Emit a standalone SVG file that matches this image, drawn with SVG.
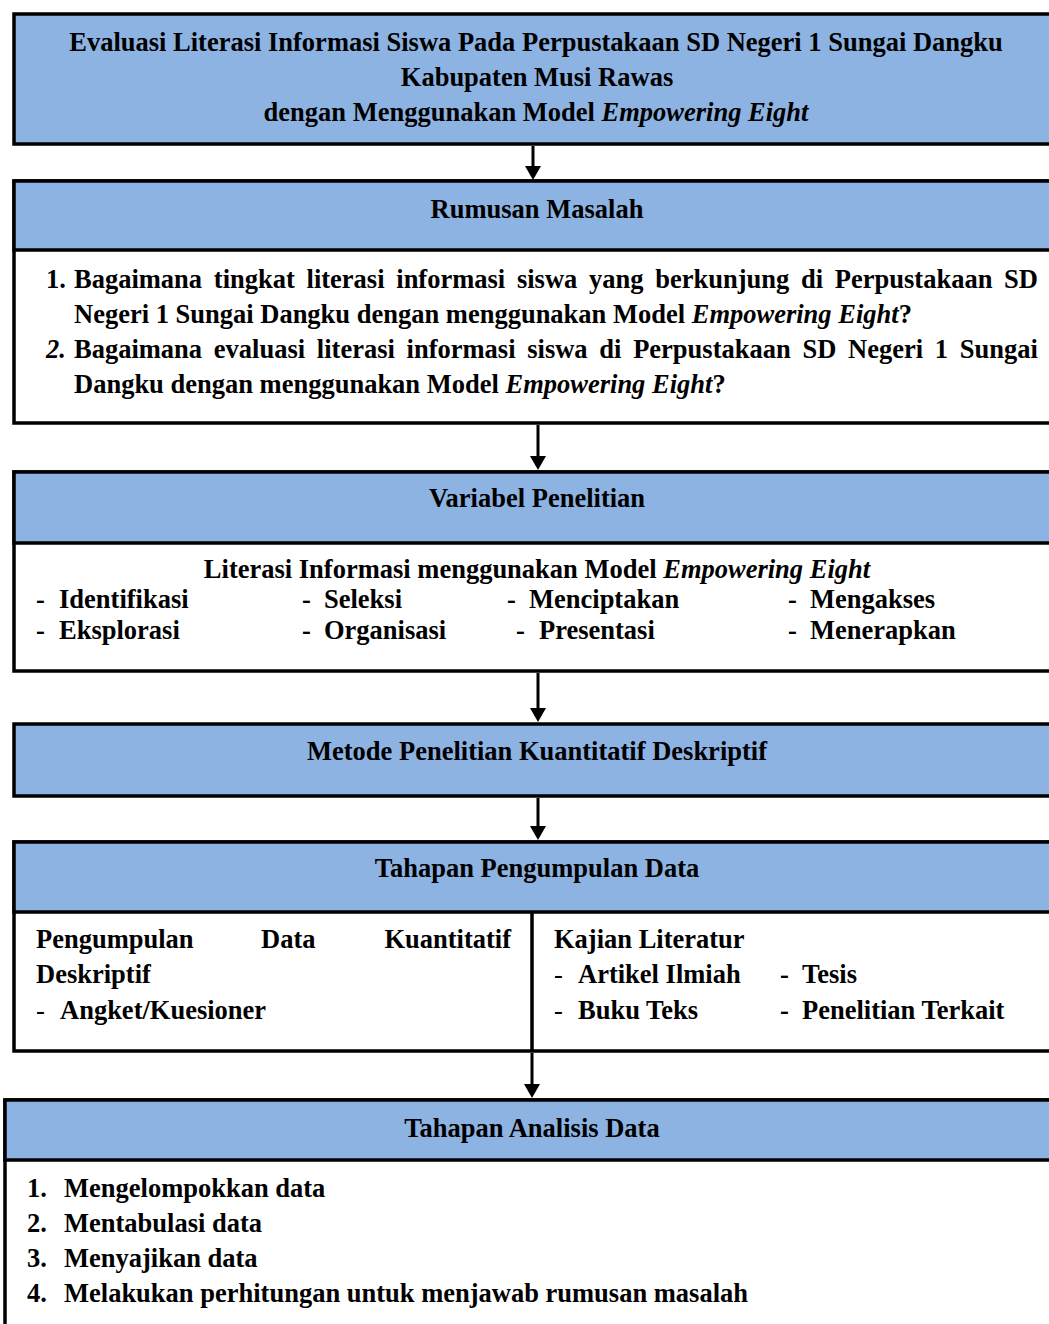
<svg xmlns="http://www.w3.org/2000/svg" width="1049" height="1324" viewBox="0 0 1049 1324">
<style>
.box{stroke:#000;stroke-width:3.5}
.hd{fill:#8DB3E2}
.bd{fill:#fff}
.ln{stroke:#000;stroke-width:3.5;fill:none}
text{font-family:"Liberation Serif","Times New Roman",serif;font-size:26.5px;font-weight:bold;fill:#000}
.c{text-anchor:middle}
.i{font-style:italic}
.n{font-weight:normal}
.conn{stroke:#000;stroke-width:3;fill:none}
.ah{fill:#000}
</style>
<rect width="1049" height="1324" fill="#fff"/>

<g id="node-title">
<rect class="box hd" x="14" y="14" width="1050" height="130"/>
<text class="c" x="536" y="51">Evaluasi Literasi Informasi Siswa Pada Perpustakaan SD Negeri 1 Sungai Dangku</text>
<text class="c" x="537" y="86">Kabupaten Musi Rawas</text>
<text class="c" x="536" y="121">dengan Menggunakan Model <tspan class="i">Empowering Eight</tspan></text>
</g>

<g id="node-rumusan">
<rect class="box bd" x="14" y="181" width="1050" height="242"/>
<rect class="box hd" x="14" y="181" width="1050" height="69"/>
<text class="c" x="537" y="218">Rumusan Masalah</text>
<text x="46" y="288">1.</text>
<text x="74" y="288" style="word-spacing:5.1px">Bagaimana tingkat literasi informasi siswa yang berkunjung di Perpustakaan SD</text>
<text x="74" y="323">Negeri 1 Sungai Dangku dengan menggunakan Model <tspan class="i">Empowering Eight</tspan>?</text>
<text x="46" y="358" class="i">2.</text>
<text x="74" y="358" style="word-spacing:5.1px">Bagaimana evaluasi literasi informasi siswa di Perpustakaan SD Negeri 1 Sungai</text>
<text x="74" y="393">Dangku dengan menggunakan Model <tspan class="i">Empowering Eight</tspan>?</text>
</g>

<g id="node-variabel">
<rect class="box bd" x="14" y="472" width="1050" height="199"/>
<rect class="box hd" x="14" y="472" width="1050" height="71"/>
<text class="c" x="537" y="507">Variabel Penelitian</text>
<text class="c" x="537" y="578">Literasi Informasi menggunakan Model <tspan class="i">Empowering Eight</tspan></text>
<text x="36" y="608">-</text><text x="59" y="608">Identifikasi</text>
<text x="302" y="608">-</text><text x="324" y="608">Seleksi</text>
<text x="507" y="608">-</text><text x="529" y="608">Menciptakan</text>
<text x="788" y="608">-</text><text x="810" y="608">Mengakses</text>
<text x="36" y="639">-</text><text x="59" y="639">Eksplorasi</text>
<text x="302" y="639">-</text><text x="324" y="639">Organisasi</text>
<text x="516" y="639">-</text><text x="539" y="639">Presentasi</text>
<text x="788" y="639">-</text><text x="810" y="639">Menerapkan</text>
</g>

<g id="node-metode">
<rect class="box hd" x="14" y="724" width="1050" height="72"/>
<text class="c" x="537" y="760">Metode Penelitian Kuantitatif Deskriptif</text>
</g>

<g id="node-pengumpulan">
<rect class="box bd" x="14" y="842" width="1050" height="209"/>
<rect class="box hd" x="14" y="842" width="1050" height="70"/>
<line class="ln" x1="532" y1="912" x2="532" y2="1051"/>
<text class="c" x="537" y="877">Tahapan Pengumpulan Data</text>
<text x="36" y="948">Pengumpulan</text>
<text x="261" y="948">Data</text>
<text x="511" y="948" style="text-anchor:end">Kuantitatif</text>
<text x="36" y="983">Deskriptif</text>
<text x="36" y="1019" class="n">-</text><text x="60" y="1019">Angket/Kuesioner</text>
<text x="554" y="948">Kajian Literatur</text>
<text x="554" y="983" class="n">-</text><text x="578" y="983">Artikel Ilmiah</text>
<text x="780" y="983">-</text><text x="802" y="983">Tesis</text>
<text x="554" y="1019" class="n">-</text><text x="578" y="1019">Buku Teks</text>
<text x="780" y="1019">-</text><text x="802" y="1019">Penelitian Terkait</text>
</g>

<g id="node-analisis">
<rect class="box bd" x="5" y="1100" width="1060" height="260"/>
<rect class="box hd" x="5" y="1100" width="1060" height="60"/>
<text class="c" x="532" y="1137">Tahapan Analisis Data</text>
<text x="27" y="1197">1.</text><text x="64" y="1197">Mengelompokkan data</text>
<text x="27" y="1232">2.</text><text x="64" y="1232">Mentabulasi data</text>
<text x="27" y="1267">3.</text><text x="64" y="1267">Menyajikan data</text>
<text x="27" y="1302">4.</text><text x="64" y="1302">Melakukan perhitungan untuk menjawab rumusan masalah</text>
</g>

<g id="connectors">
<line class="conn" x1="533" y1="146" x2="533" y2="168"/>
<path class="ah" d="M525,166 L541,166 L533,180 Z"/>
<line class="conn" x1="538" y1="425" x2="538" y2="458"/>
<path class="ah" d="M530,456 L546,456 L538,470 Z"/>
<line class="conn" x1="538" y1="673" x2="538" y2="710"/>
<path class="ah" d="M530,708 L546,708 L538,722 Z"/>
<line class="conn" x1="538" y1="798" x2="538" y2="828"/>
<path class="ah" d="M530,826 L546,826 L538,840 Z"/>
<line class="conn" x1="532" y1="1053" x2="532" y2="1086"/>
<path class="ah" d="M524,1084 L540,1084 L532,1098 Z"/>
</g>
</svg>
